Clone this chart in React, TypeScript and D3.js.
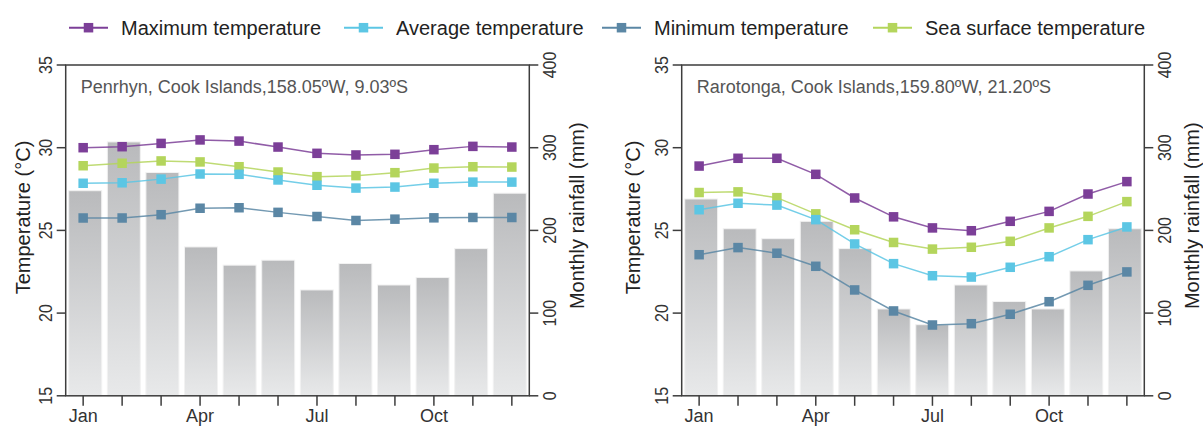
import React from "react";
import * as d3 from "d3";

// months and tick values
const months = ["Jan", "Feb", "Mar", "Apr", "May", "Jun", "Jul", "Aug", "Sep", "Oct", "Nov", "Dec"];
const monthLabels = ["Jan", "", "", "Apr", "", "", "Jul", "", "", "Oct", "", ""];
const tempTicks = [15, 20, 25, 30, 35];
const rainTicks = [0, 100, 200, 300, 400];

// Penrhyn
const penrhynRain = [248, 307, 270, 180, 158, 164, 128, 160, 134, 143, 178, 245];
const penrhynMax = [30.0, 30.06, 30.26, 30.47, 30.4, 30.04, 29.66, 29.56, 29.6, 29.88, 30.08, 30.04];
const penrhynAvg = [27.85, 27.88, 28.1, 28.41, 28.39, 28.05, 27.73, 27.56, 27.62, 27.85, 27.92, 27.92];
const penrhynMin = [25.75, 25.75, 25.95, 26.34, 26.37, 26.09, 25.84, 25.6, 25.68, 25.76, 25.78, 25.78];
const penrhynSst = [28.91, 29.06, 29.2, 29.14, 28.85, 28.53, 28.25, 28.31, 28.49, 28.77, 28.85, 28.83];

// Rarotonga
const rarotongaRain = [238, 202, 190, 211, 178, 105, 86, 134, 114, 105, 151, 202];
const rarotongaMax = [28.89, 29.36, 29.36, 28.39, 26.96, 25.82, 25.15, 24.98, 25.55, 26.15, 27.2, 27.95];
const rarotongaAvg = [26.25, 26.64, 26.53, 25.65, 24.18, 22.99, 22.26, 22.18, 22.77, 23.41, 24.44, 25.21];
const rarotongaMin = [23.53, 23.96, 23.62, 22.83, 21.4, 20.13, 19.28, 19.36, 19.93, 20.69, 21.68, 22.49];
const rarotongaSst = [27.29, 27.33, 26.98, 26.0, 25.04, 24.27, 23.87, 23.98, 24.34, 25.15, 25.85, 26.74];

const seriesNames = ["Maximum temperature", "Average temperature", "Minimum temperature", "Sea surface temperature"];
const seriesColors = ["#7c3f98", "#5cc6e4", "#5b87a5", "#b4d55c"];

// layout
const W = 1203;
const H = 426;
const TOP = 65;
const BOTTOM = 395.8;
const FONT = "'Liberation Sans', Arial, Helvetica, sans-serif";
const legendX = [69, 344, 602, 873];

function Panel({ title, rain, series, left, right, tempTitleX, rainTitleX }: any) {
  const xb = d3.scaleBand<string>().domain(months).range([left, right]).paddingInner(0.145).paddingOuter(0.078);
  const xp = d3.scalePoint<string>().domain(months).range([left, right]).padding(0.448);
  const yT = d3.scaleLinear().domain([15, 35]).range([BOTTOM, TOP]);
  const yR = d3.scaleLinear().domain([0, 400]).range([BOTTOM, TOP]);
  const line = d3
    .line<number>()
    .x((_, i) => xp(months[i])!)
    .y((d) => yT(d));

  const order = [3, 1, 2, 0];

  return (
    <g>
      {rain.map((r: number, i: number) => (
        <rect
          key={i}
          x={xb(months[i])}
          y={yR(r)}
          width={xb.bandwidth()}
          height={yR(0) - yR(r)}
          fill="url(#barGrad)"
          stroke="#f2f2f2"
          strokeWidth={1}
        />
      ))}

      {/* frame */}
      <rect x={left} y={TOP} width={right - left} height={BOTTOM - TOP} fill="none" stroke="#3d3d3d" strokeWidth={1.5} />

      {/* left ticks */}
      {tempTicks.map((t) => (
        <g key={"t" + t}>
          <line x1={left - 9} x2={left} y1={yT(t)} y2={yT(t)} stroke="#3d3d3d" strokeWidth={1.5} />
          <text
            transform={`translate(${left - 14},${yT(t)}) rotate(-90) scale(1,1.2)`}
            textAnchor="middle"
            fontSize={16}
            fill="#333"
          >
            {t}
          </text>
        </g>
      ))}

      {/* right ticks */}
      {rainTicks.map((t) => (
        <g key={"r" + t}>
          <line x1={right} x2={right + 9} y1={yR(t)} y2={yR(t)} stroke="#3d3d3d" strokeWidth={1.5} />
          <text
            transform={`translate(${right + 27},${yR(t)}) rotate(-90) scale(1,1.2)`}
            textAnchor="middle"
            fontSize={16}
            fill="#333"
          >
            {t}
          </text>
        </g>
      ))}

      {/* bottom ticks */}
      {months.map((m, i) => (
        <g key={m}>
          <line x1={xp(m)} x2={xp(m)} y1={BOTTOM} y2={BOTTOM + 10} stroke="#3d3d3d" strokeWidth={1.5} />
          {monthLabels[i] && (
            <text x={xp(m)} y={421.5} textAnchor="middle" fontSize={18} fill="#333">
              {monthLabels[i]}
            </text>
          )}
        </g>
      ))}

      <text transform={`translate(${tempTitleX},217.5) rotate(-90)`} textAnchor="middle" fontSize={20} fill="#222">
        Temperature (°C)
      </text>
      <text transform={`translate(${rainTitleX},215.7) rotate(-90)`} textAnchor="middle" fontSize={20} fill="#222">
        Monthly rainfall (mm)
      </text>

      <text x={left + 15} y={93.3} fontSize={18} fill="#555">
        {title}
      </text>

      {order.map((k) => (
        <g key={"s" + k}>
          <path d={line(series[k]) || ""} fill="none" stroke={seriesColors[k]} strokeWidth={1.5} strokeOpacity={0.85} />
          {series[k].map((v: number, i: number) => (
            <rect key={i} x={xp(months[i])! - 4.75} y={yT(v) - 4.75} width={9.5} height={9.5} fill={seriesColors[k]} />
          ))}
        </g>
      ))}
    </g>
  );
}

export default function App() {
  return (
    <svg
      width={W}
      height={H}
      style={{ position: "absolute", left: 0, top: 0, background: "#fff" }}
      fontFamily={FONT}
    >
      <defs>
        <linearGradient id="barGrad" x1="0" y1="0" x2="0" y2="1">
          <stop offset="0" stopColor="#b9babc" />
          <stop offset="1" stopColor="#e8e9ea" />
        </linearGradient>
      </defs>

      {/* legend */}
      {seriesNames.map((name, i) => (
        <g key={name}>
          <line x1={legendX[i]} x2={legendX[i] + 39} y1={27.7} y2={27.7} stroke={seriesColors[i]} strokeWidth={2} />
          <rect x={legendX[i] + 19.5 - 4.75} y={27.7 - 4.75} width={9.5} height={9.5} fill={seriesColors[i]} />
          <text x={legendX[i] + 52} y={35} fontSize={20} fill="#222">
            {name}
          </text>
        </g>
      ))}

      <Panel
        title="Penrhyn, Cook Islands,158.05ºW, 9.03ºS"
        rain={penrhynRain}
        series={[penrhynMax, penrhynAvg, penrhynMin, penrhynSst]}
        left={65.7}
        right={529.3}
        tempTitleX={29.5}
        rainTitleX={584.3}
      />
      <Panel
        title="Rarotonga, Cook Islands,159.80ºW, 21.20ºS"
        rain={rarotongaRain}
        series={[rarotongaMax, rarotongaAvg, rarotongaMin, rarotongaSst]}
        left={681.7}
        right={1144.3}
        tempTitleX={639.5}
        rainTitleX={1199.3}
      />
    </svg>
  );
}
